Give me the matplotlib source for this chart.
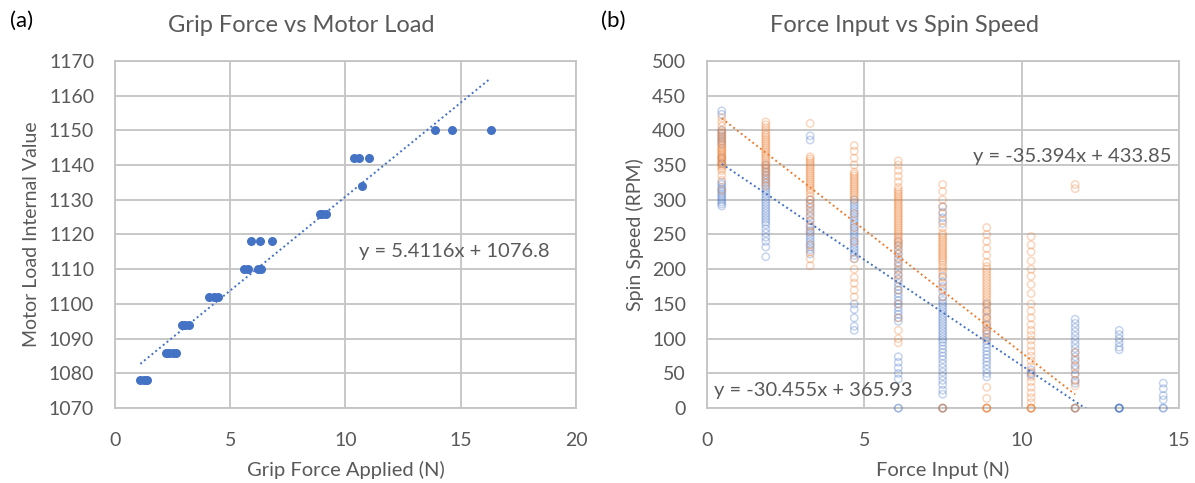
import numpy as np
import matplotlib.pyplot as plt

plt.rcParams['font.family'] = ['Lato', 'DejaVu Sans']

BLUE = '#4472C4'
ORANGE = '#ED7D31'
GRAY_TXT = '#595959'
GRID = '#C4C4C4'

# (a) grip force vs motor load
grip_force = [1.1, 1.25, 1.4, 2.2, 2.35, 2.5, 2.65, 2.9, 3.05, 3.2, 4.1, 4.3, 4.45,
              5.6, 5.75, 6.2, 6.35, 5.9, 6.3, 6.8, 8.9, 9.0, 9.15, 10.7,
              10.35, 10.6, 11.0, 13.9, 14.6, 16.3]
motor_load = [1078, 1078, 1078, 1086, 1086, 1086, 1086, 1094, 1094, 1094, 1102, 1102, 1102,
              1110, 1110, 1110, 1110, 1118, 1118, 1118, 1126, 1126, 1126, 1134,
              1142, 1142, 1142, 1150, 1150, 1150]
grip_fit = (5.4116, 1076.8)

# (b) force input vs spin speed, one list of RPM readings per force level
force_levels = [0.47, 1.87, 3.28, 4.68, 6.08, 7.49, 8.89, 10.3, 11.7, 13.1, 14.5]

blue_rpm = [
    [428, 423, 400, 396, 392, 388, 384, 380, 360, 352, 325, 322, 318, 315, 312, 309, 306,
     303, 300, 297, 294, 291],
    [350, 345, 340, 336, 332, 328, 324, 320, 316, 312, 308, 304, 300, 296, 292, 288, 284,
     280, 276, 272, 268, 264, 258, 252, 246, 240, 232, 218],
    [392, 386, 300, 294, 288, 282, 276, 270, 264, 260, 256, 252, 248, 244, 240, 236, 232,
     228, 222],
    [300, 296, 292, 288, 284, 280, 276, 272, 268, 264, 260, 256, 252, 248, 244, 240, 236,
     232, 228, 224, 220, 215, 150, 142, 130, 118, 112],
    [240, 234, 228, 222, 216, 210, 204, 198, 192, 186, 180, 175, 170, 165, 160, 155, 150,
     145, 140, 135, 130, 125, 74, 66, 58, 50, 42, 0, 0],
    [290, 282, 274, 266, 190, 182, 175, 168, 160, 155, 151, 147, 143, 139, 135, 131, 127,
     123, 119, 115, 111, 107, 103, 99, 95, 90, 85, 80, 75, 70, 64, 58, 52, 46, 40, 34, 26,
     20, 0, 0],
    [150, 140, 130, 120, 112, 107, 102, 97, 92, 87, 82, 77, 72, 67, 62, 56, 50, 45],
    [55, 50, 48],
    [128, 122, 116, 110, 104, 98, 92, 86, 80, 74, 68, 62, 56, 48, 40, 36, 0, 0],
    [112, 106, 100, 94, 88, 84, 0, 0, 0, 0, 0],
    [36, 28, 18, 12, 0, 0],
]

orange_rpm = [
    [418, 412, 406, 400, 397, 394, 391, 388, 385, 382, 379, 376, 374, 372, 370, 368, 366,
     364, 362, 360, 358, 356, 354, 352, 350, 348, 345, 342, 335, 328, 314],
    [412, 408, 404, 400, 396, 393, 390, 387, 384, 381, 378, 375, 372, 369, 366, 363, 360,
     357, 354, 351, 348, 345, 342, 339, 335, 330, 325, 320],
    [410, 362, 359, 356, 353, 350, 347, 344, 341, 338, 335, 332, 329, 326, 323, 320, 317,
     314, 310, 305, 300, 295, 290, 284, 278, 270, 262, 254, 235, 225, 215, 205],
    [378, 370, 360, 350, 340, 337, 334, 331, 328, 325, 322, 319, 316, 313, 310, 307, 304,
     300, 280, 260, 240, 215, 200, 188, 180, 170, 160],
    [356, 350, 342, 334, 326, 318, 314, 311, 308, 305, 302, 299, 296, 293, 290, 287, 284,
     281, 278, 275, 272, 269, 266, 263, 260, 257, 254, 251, 248, 245, 242, 239, 236, 233,
     228, 222, 215, 208, 200, 192, 185, 170, 150, 130, 112, 100, 94],
    [322, 312, 300, 290, 280, 270, 260, 252, 249, 246, 243, 240, 237, 234, 231, 228, 225,
     222, 219, 216, 213, 210, 206, 202, 198, 194, 188, 180, 172, 160, 0, 0],
    [260, 250, 240, 230, 220, 210, 204, 200, 196, 192, 188, 184, 180, 176, 172, 168, 164,
     160, 156, 152, 148, 144, 140, 136, 132, 128, 124, 120, 116, 112, 108, 100, 30, 14,
     0, 0, 0, 0],
    [247, 235, 225, 212, 200, 190, 178, 165, 150, 140, 130, 120, 112, 105, 98, 90, 82, 75,
     68, 60, 52, 45, 38, 30, 22, 15, 8, 0, 0, 0, 0],
    [322, 316, 80, 70, 60, 50, 40, 32, 0, 0],
    [],
    [],
]
blue_fit = (-30.455, 365.93)
orange_fit = (-35.394, 433.85)


def style_axes(ax):
    ax.grid(True, color=GRID, linewidth=1.3)
    ax.set_axisbelow(True)
    for sp in ax.spines.values():
        sp.set_color(GRID)
        sp.set_linewidth(1.3)
    ax.tick_params(length=0, labelsize=14, labelcolor=GRAY_TXT)
    ax.tick_params(axis='x', pad=17)
    ax.tick_params(axis='y', pad=15)


fig = plt.figure(figsize=(11.95, 4.83), dpi=100)

# ---- panel (a)
ax1 = fig.add_axes([0.0962, 0.155, 0.3858, 0.719])
style_axes(ax1)
ax1.scatter(grip_force, motor_load, s=30, color=BLUE, zorder=3, clip_on=False)
gx = np.array([min(grip_force), max(grip_force)])
ax1.plot(gx, grip_fit[0] * gx + grip_fit[1], color=BLUE, linestyle=(0, (1, 1.5)),
         linewidth=1.4, zorder=4)
ax1.set_xlim(0, 20)
ax1.set_ylim(1070, 1170)
ax1.set_xticks(range(0, 21, 5))
ax1.set_yticks(range(1070, 1171, 10))
ax1.text(10.6, 1115.2, 'y = 5.4116x + 1076.8', fontsize=14.5, color=GRAY_TXT,
         va='center', ha='left')
fig.text(0.252, 0.934, 'Grip Force vs Motor Load', fontsize=17, color=GRAY_TXT,
         ha='center', va='baseline')
ax1.set_xlabel('Grip Force Applied (N)', fontsize=14.5, color=GRAY_TXT, labelpad=9)
ax1.set_ylabel('Motor Load Internal Value', fontsize=14, color=GRAY_TXT, labelpad=6)
fig.text(0.008, 0.957, '(a)', fontsize=16, color='black', va='center')

# ---- panel (b)
ax2 = fig.add_axes([0.5916, 0.155, 0.395, 0.719])
style_axes(ax2)
for f, vals in zip(force_levels, blue_rpm):
    if vals:
        ax2.scatter([f] * len(vals), vals, s=28, facecolors='none', edgecolors=BLUE,
                    linewidths=1.1, alpha=0.3, zorder=3, clip_on=False)
for f, vals in zip(force_levels, orange_rpm):
    if vals:
        ax2.scatter([f] * len(vals), vals, s=28, facecolors='none', edgecolors=ORANGE,
                    linewidths=1.1, alpha=0.3, zorder=3, clip_on=False)

bx = np.array([min(force_levels), max(force_levels)])
ax2.plot(bx, blue_fit[0] * bx + blue_fit[1], color=BLUE, linestyle=(0, (1, 1.5)),
         linewidth=1.4, zorder=4)
orange_x = [f for f, v in zip(force_levels, orange_rpm) if v]
ox = np.array([min(orange_x), max(orange_x)])
ax2.plot(ox, orange_fit[0] * ox + orange_fit[1], color=ORANGE, linestyle=(0, (1, 1.5)),
         linewidth=1.4, zorder=4)
ax2.set_xlim(0, 15)
ax2.set_ylim(0, 500)
ax2.set_xticks(range(0, 16, 5))
ax2.set_yticks(range(0, 501, 50))
ax2.text(8.45, 363, 'y = -35.394x + 433.85', fontsize=14.5, color=GRAY_TXT,
         va='center', ha='left')
ax2.text(0.22, 26, 'y = -30.455x + 365.93', fontsize=14.5, color=GRAY_TXT,
         va='center', ha='left')
fig.text(0.757, 0.934, 'Force Input vs Spin Speed', fontsize=17, color=GRAY_TXT,
         ha='center', va='baseline')
ax2.set_xlabel('Force Input (N)', fontsize=14.5, color=GRAY_TXT, labelpad=9)
ax2.set_ylabel('Spin Speed (RPM)', fontsize=14, color=GRAY_TXT, labelpad=6)
fig.text(0.503, 0.957, '(b)', fontsize=16, color='black', va='center')

fig.savefig('out.png', dpi=100)
